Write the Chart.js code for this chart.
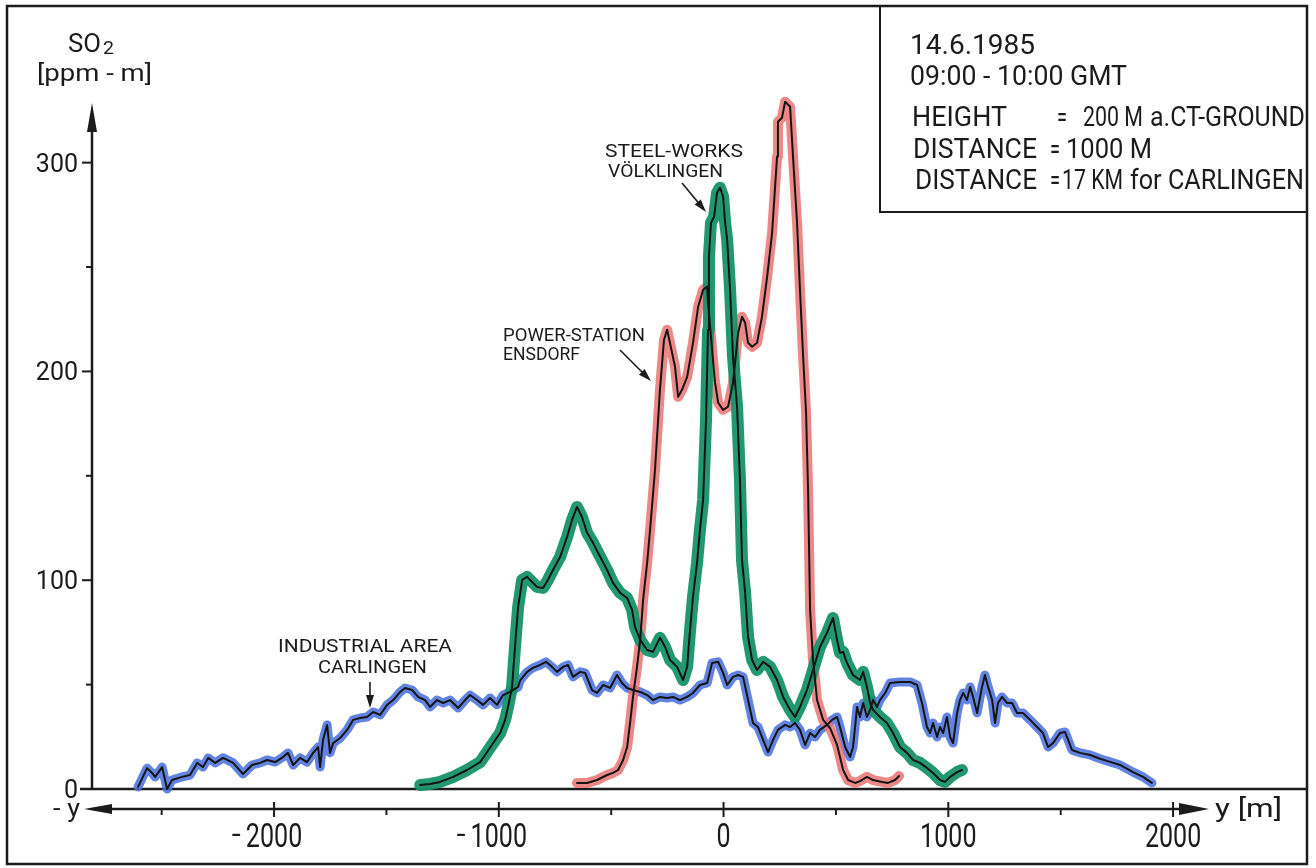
<!DOCTYPE html>
<html><head><meta charset="utf-8">
<script src="https://cdn.jsdelivr.net/npm/chart.js@4.4.1/dist/chart.umd.min.js"></script>
<style>html,body{margin:0;padding:0;background:#fff;}#wrap{width:1316px;height:868px;}</style>
</head><body><div id="wrap"><canvas id="c" width="1316" height="868"></canvas></div>
<script>
// ---- tick labels ----
const xTickValues = [-2000, -1000, 0, 1000, 2000];
const xMinorTickValues = [-2500, -1500, -500, 500, 1500];
const yTickValues = [0, 100, 200, 300];
const yMinorTickValues = [50, 150, 250];

// ---- series: INDUSTRIAL AREA CARLINGEN (blue) ----
const carlingenX = [-2605,-2565,-2543,-2529,-2498,-2476,-2454,-2409,-2374,-2342,-2316,-2293,-2262,-2227,-2182,-2138,-2098,-2062,-2031,-1995,-1960,-1938,-1915,-1884,-1853,-1826,-1804,-1795,-1782,-1764,-1751,-1737,-1706,-1675,-1648,-1617,-1586,-1559,-1528,-1497,-1470,-1439,-1417,-1386,-1359,-1328,-1306,-1275,-1248,-1217,-1181,-1150,-1128,-1097,-1070,-1039,-1008,-981,-950,-914,-905,-874,-848,-816,-790,-763,-741,-714,-692,-670,-638,-616,-585,-563,-536,-505,-474,-452,-429,-403,-371,-340,-314,-283,-251,-225,-194,-162,-136,-105,-73,-51,-24,-2,16,42,65,87,109,131,153,176,198,220,242,274,296,318,340,363,385,407,429,460,483,505,518,541,563,576,594,607,621,638,652,665,683,696,719,741,785,830,861,883,905,919,932,950,963,977,994,1008,1021,1039,1052,1066,1083,1097,1110,1128,1150,1163,1177,1195,1208,1221,1239,1261,1284,1306,1332,1364,1395,1421,1444,1466,1497,1519,1533,1550,1586,1631,1675,1720,1764,1822,1866,1906];
const carlingenY = [1,10,7.7,5.8,10.5,0,4.3,5.8,6.7,12.5,10.5,14.9,12.5,14.9,12.5,7.2,11.5,12.5,13.9,12.9,15.3,17.3,11.5,14.9,12.9,17.3,20.1,10.5,23.5,30.7,17.3,22,24.4,28.3,33.1,34,34.5,36.9,35.5,40.3,42.6,46.5,48.4,47.4,44.1,42.6,39.3,42.6,41.2,42.6,38.8,42.6,45,42.6,40.3,43.6,40.3,45,46.5,48.9,52,56.1,58,59.4,60.9,58.5,56.1,58.5,59.4,53.7,56.1,55.6,47.4,46,49.8,48.4,54.6,50.8,48.4,47.4,46.5,45,42.6,44.1,43.6,44.1,42.6,44.1,46,49.8,50.8,60.4,60.9,55.6,49.8,53.7,54.6,53.7,42.6,31.6,29.7,23.5,17.7,23.5,28.3,30.7,29.7,31.6,28.3,21.1,26.8,24.9,28.3,30.7,33.1,34.5,29.7,20.1,15.3,20.1,39.3,34.5,41.2,34.5,37.9,42.6,39.3,42.6,46,50.8,51.3,51.3,49.8,41.2,29.7,26.8,31.6,24.9,29.7,26.8,34.5,24.9,22,36.4,42.6,46,42.6,48.9,44.1,36.4,48.9,54.6,48.9,42.6,31.6,41.2,44.1,41.2,41.2,36.4,36.4,33.1,29.7,26.8,20.1,22,26.8,27.3,23.5,18.7,17.3,16.3,14.5,13,11.5,8.1,5.8,2.9];

// ---- series: STEEL-WORKS VÖLKLINGEN (green) ----
const voelklingenX = [-1350,-1306,-1261,-1203,-1141,-1083,-1052,-1025,-994,-972,-959,-941,-928,-914,-896,-874,-852,-830,-803,-781,-759,-727,-696,-674,-652,-630,-607,-581,-549,-518,-492,-460,-429,-407,-394,-371,-340,-314,-283,-260,-238,-207,-180,-162,-149,-136,-118,-105,-91,-78,-69,-65,-56,-42,-29,-16,-2,7,16,29,42,60,73,82,96,109,127,149,176,207,238,265,296,318,340,371,398,429,460,487,505,518,532,549,576,607,621,638,652,665,696,727,754,785,816,843,874,905,932,963,985,1008,1039,1061];
const voelklingenY = [1.9,2.4,3.4,5.8,9.1,12.9,17.7,22,26.8,33.1,39.3,48.9,68,87.2,100.2,101.6,99.2,96.8,96.3,100.2,104.9,111.2,120.8,128.9,135.1,130.3,122.7,117.9,111.2,104.9,98.7,93.9,91.5,85.8,77.6,71.4,66.6,65.7,72.4,68,61.8,58.5,52.2,58.5,76.2,92,108.3,124.1,138.5,176.8,220,254.9,271.2,274.1,285.6,288,283.7,271.2,263.1,239.1,207,183.1,148.1,109.7,93.9,72.8,61.8,57,60.9,58.5,52.2,44.1,37.9,34.5,39.3,47.4,57,68,74.8,81.9,71.4,65.2,65.7,60.4,54.6,52.2,56.1,48.9,41.2,37.9,34.5,31.6,26.8,20.1,17.3,13.9,12.5,10.1,7.7,4.3,3.4,5.8,8.1,9.1];

// ---- series: POWER-STATION ENSDORF (red) ----
const ensdorfX = [-652,-607,-563,-518,-492,-469,-447,-429,-416,-403,-385,-371,-358,-340,-327,-305,-283,-265,-251,-216,-202,-185,-162,-136,-113,-91,-73,-69,-51,-38,-24,-2,20,42,65,82,96,109,127,149,171,194,216,238,242,260,274,296,309,327,340,354,367,376,385,398,416,443,474,505,532,554,585,607,638,665,705,732,763,781];
const ensdorfY = [2.9,2.9,4.3,6.7,7.7,9.1,13.9,20.1,31.6,44.1,58.5,71.4,90.6,108.3,124.1,152.9,191.2,215.2,220,202.2,187.8,191.2,197.4,213.7,231,239.1,240.6,232.9,210.4,194.6,185,181.6,183.1,194.6,218.5,226.2,223.3,213.7,211.8,213.7,226.2,245.4,266.4,302.9,319.6,321.5,329.2,326.8,302.9,271.2,239.1,207,180.6,143.3,85.8,61.8,42.6,33.1,29.2,21.1,9.1,4.3,2.9,3.8,5.8,4.3,3.4,2.9,4.3,6.2];

const seriesLabels = ['INDUSTRIAL AREA CARLINGEN', 'STEEL-WORKS VÖLKLINGEN', 'POWER-STATION ENSDORF'];

function pts(xs, ys) { return xs.map((x, i) => ({ x: x, y: ys[i] })); }

const FONT = 'Roboto, "Liberation Sans", Arial, sans-serif';
function fitText(ctx, text, x, y, size, width, align, baseline) {
  ctx.font = size + 'px ' + FONT;
  const w = ctx.measureText(text).width;
  const s = width ? width / w : 1;
  ctx.save();
  ctx.translate(x, y);
  ctx.scale(s, 1);
  ctx.textAlign = align || 'left';
  ctx.textBaseline = baseline || 'alphabetic';
  ctx.fillText(text, 0, 0);
  ctx.restore();
  return w * s;
}
function line(ctx, x1, y1, x2, y2) { ctx.beginPath(); ctx.moveTo(x1, y1); ctx.lineTo(x2, y2); ctx.stroke(); }
function head(ctx, tx, ty, fx, fy, len, half) {
  const a = Math.atan2(ty - fy, tx - fx);
  const bx = tx - len * Math.cos(a), by = ty - len * Math.sin(a);
  const nx = -Math.sin(a) * half, ny = Math.cos(a) * half;
  ctx.beginPath(); ctx.moveTo(tx, ty); ctx.lineTo(bx + nx, by + ny); ctx.lineTo(bx - nx, by - ny); ctx.closePath(); ctx.fill();
}
function arrow(ctx, x1, y1, x2, y2, len, half) {
  const a = Math.atan2(y2 - y1, x2 - x1);
  line(ctx, x1, y1, x2 - (len - 2) * Math.cos(a), y2 - (len - 2) * Math.sin(a));
  head(ctx, x2, y2, x1, y1, len, half);
}

const decor = {
  id: 'decor',
  beforeDatasetsDraw(chart) {
    const ctx = chart.ctx, xs = chart.scales.x, ys = chart.scales.y, ca = chart.chartArea;
    ctx.save();
    ctx.strokeStyle = '#1b1b1b'; ctx.fillStyle = '#1b1b1b'; ctx.lineCap = 'butt';
    // outer frame and info box
    ctx.lineWidth = 2.5;
    ctx.strokeRect(7, 6, 1300, 858);
    ctx.lineWidth = 2;
    ctx.strokeRect(880, 6, 427, 206);
    // zero line
    const y0 = ys.getPixelForValue(0);
    ctx.lineWidth = 2.5;
    line(ctx, 80, y0, 1307, y0);
    // y axis with arrow
    const ax = ca.left;
    line(ctx, ax, y0, ax, 120);
    head(ctx, ax, 103, ax, 200, 29, 5);
    ctx.lineWidth = 2;
    yTickValues.forEach(v => { if (v !== 0) { const p = ys.getPixelForValue(v); line(ctx, ax - 10, p, ax, p); } });
    yMinorTickValues.forEach(v => { const p = ys.getPixelForValue(v); line(ctx, ax - 6, p, ax, p); });
    // x axis with arrows both ways
    const axY = ca.bottom;
    ctx.lineWidth = 2.5;
    line(ctx, 100, axY, 1190, axY);
    head(ctx, 84, axY, 200, axY, 28, 5);
    head(ctx, 1209, axY, 1000, axY, 30, 6);
    ctx.lineWidth = 2;
    xTickValues.forEach(v => { const p = xs.getPixelForValue(v); line(ctx, p, axY - 7, p, axY + 8); });
    xMinorTickValues.forEach(v => { const p = xs.getPixelForValue(v); line(ctx, p, axY, p, axY + 6); });
    ctx.restore();
  },
  afterDraw(chart) {
    const ctx = chart.ctx, xs = chart.scales.x, ys = chart.scales.y, ca = chart.chartArea;
    ctx.save();
    ctx.fillStyle = '#1b1b1b'; ctx.strokeStyle = '#1b1b1b';
    // y tick labels
    yTickValues.forEach(v => {
      const p = ys.getPixelForValue(v);
      fitText(ctx, String(v), 78, p + 9, 25, null, 'right');
    });
    // x tick labels: digits centred on tick, minus sign hanging left
    xTickValues.forEach(v => {
      const p = xs.getPixelForValue(v);
      ctx.font = '33px ' + FONT;
      const t = String(Math.abs(v));
      const w = ctx.measureText(t).width * 0.76;
      fitText(ctx, t, p, 847, 33, w, 'center');
      if (v < 0) fitText(ctx, '-', p - w / 2 - 5, 844, 30, 9, 'right');
    });
    // axis titles
    fitText(ctx, 'SO', 68, 52, 26, 33, 'left');
    fitText(ctx, '2', 103, 54, 18, 11, 'left');
    fitText(ctx, '[ppm - m]', 37, 81, 24, 115, 'left');
    fitText(ctx, '- y', 53, 817, 26, 27, 'left');
    fitText(ctx, 'y [m]', 1215, 817, 25, 67, 'left');
    // info box
    fitText(ctx, '14.6.1985', 910, 54, 27, 125);
    fitText(ctx, '09:00 - 10:00 GMT', 910, 85, 27, 217);
    fitText(ctx, 'HEIGHT', 912, 126, 27, 95);
    fitText(ctx, '=', 1057, 126, 27, 10);
    fitText(ctx, '200 M', 1083, 126, 27, 60);
    fitText(ctx, 'a.CT-GROUND', 1150, 126, 27, 155);
    fitText(ctx, 'DISTANCE', 913, 158, 27, 124);
    fitText(ctx, '=', 1050, 158, 27, 10);
    fitText(ctx, '1000 M', 1066, 158, 27, 86);
    fitText(ctx, 'DISTANCE', 915, 189, 27, 122);
    fitText(ctx, '=', 1050, 189, 27, 10);
    fitText(ctx, '17 KM', 1062, 189, 27, 61);
    fitText(ctx, 'for CARLINGEN', 1130, 189, 27, 174);
    // annotations
    fitText(ctx, 'STEEL-WORKS', 605, 157, 18, 138);
    fitText(ctx, 'VÖLKLINGEN', 608, 177, 18, 115);
    fitText(ctx, 'POWER-STATION', 503, 341, 18, 142);
    fitText(ctx, 'ENSDORF', 503, 360, 18, 77);
    fitText(ctx, 'INDUSTRIAL AREA', 278, 652, 18, 174);
    fitText(ctx, 'CARLINGEN', 318, 673, 18, 109);
    ctx.lineWidth = 1.6;
    arrow(ctx, 682, 183, 706, 212, 13, 4);
    arrow(ctx, 620, 350, 651, 381, 13, 4);
    arrow(ctx, 370, 682, 370, 708, 13, 4);
    ctx.restore();
  }
};

const bandStyle = (color, w, order) => ({ borderColor: color, borderWidth: w, order: order });
const datasets = [
  Object.assign({ label: seriesLabels[0], data: pts(carlingenX, carlingenY) }, bandStyle('rgba(70,110,218,0.85)', 9, 5)),
  Object.assign({ label: seriesLabels[2], data: pts(ensdorfX, ensdorfY) }, bandStyle('rgba(233,115,115,0.85)', 10, 4)),
  Object.assign({ label: seriesLabels[1], data: pts(voelklingenX, voelklingenY) }, bandStyle('rgba(22,146,104,0.95)', 12, 3)),
  { label: seriesLabels[0] + ' (trace)', data: pts(carlingenX, carlingenY), borderColor: '#141414', borderWidth: 2, order: 1 },
  { label: seriesLabels[1] + ' (trace)', data: pts(voelklingenX, voelklingenY), borderColor: '#141414', borderWidth: 2, order: 1 },
  { label: seriesLabels[2] + ' (trace)', data: pts(ensdorfX, ensdorfY), borderColor: '#141414', borderWidth: 2, order: 1 }
];
datasets.forEach(d => Object.assign(d, { pointRadius: 0, tension: 0, fill: false, borderJoinStyle: 'round', borderCapStyle: 'round', clip: false }));

new Chart(document.getElementById('c'), {
  type: 'line',
  data: { datasets: datasets },
  options: {
    responsive: false, animation: false, events: [],
    layout: { padding: { left: 92, right: 11, top: 100, bottom: 59 } },
    plugins: { legend: { display: false }, tooltip: { enabled: false } },
    scales: {
      x: { type: 'linear', min: -2810, max: 2587, display: false },
      y: { type: 'linear', min: -9.58, max: 330, display: false }
    }
  },
  plugins: [decor]
});
</script></body></html>
